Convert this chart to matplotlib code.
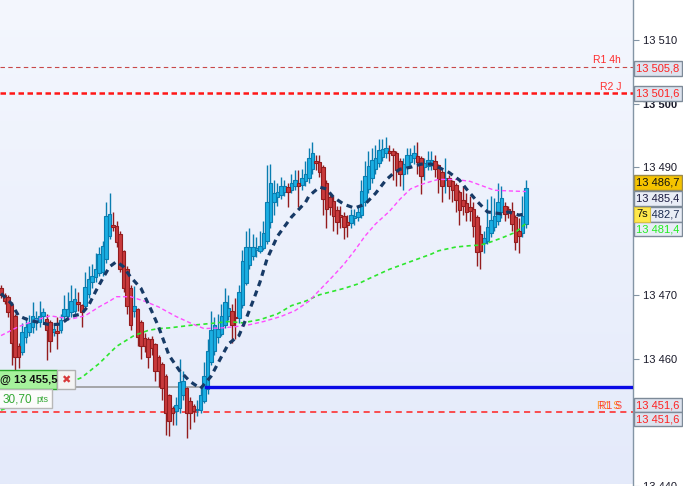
import numpy as np
import matplotlib
matplotlib.use("Agg")
import matplotlib.pyplot as plt
from matplotlib.colors import LinearSegmentedColormap
from matplotlib.patches import Rectangle
import matplotlib.transforms as mtransforms

plt.rcParams["font.family"] = ["Liberation Sans", "DejaVu Sans"]

# OHLC, one candle per bar
opens = [
    13471.0, 13470.0, 13469.7, 13468.4, 13466.7, 13462.0, 13461.1, 13463.4, 13464.2, 13465.0,
    13465.8, 13465.8, 13466.6, 13466.2, 13465.8, 13464.2, 13464.3, 13464.4, 13466.6, 13466.6,
    13467.3, 13467.5, 13468.8, 13468.4, 13468.3, 13470.2, 13472.0, 13472.8, 13473.4, 13473.6,
    13475.6, 13479.2, 13481.0, 13480.8, 13479.5, 13476.9, 13474.0, 13471.0, 13467.5, 13467.8,
    13465.8, 13463.2, 13463.0, 13463.1, 13462.3, 13460.3, 13459.2, 13457.2, 13454.2, 13452.3,
    13451.7, 13452.3, 13454.2, 13455.3, 13453.4, 13452.5, 13451.9, 13452.0, 13453.3, 13455.2,
    13459.5, 13461.2, 13463.3, 13463.9, 13465.3, 13466.7, 13467.5, 13466.5, 13466.3, 13468.4,
    13471.9, 13474.7, 13476.1, 13477.0, 13476.9, 13477.3, 13478.4, 13481.4, 13484.5, 13485.3,
    13485.6, 13486.2, 13486.9, 13486.4, 13487.0, 13487.5, 13487.2, 13487.8, 13488.4, 13489.7,
    13491.0, 13490.8, 13490.0, 13487.5, 13485.3, 13484.7, 13483.3, 13482.5, 13482.3, 13481.4,
    13481.2, 13482.0, 13482.2, 13482.5, 13484.5, 13486.6, 13488.3, 13489.8, 13490.6, 13491.6,
    13492.2, 13492.6, 13492.5, 13492.3, 13491.0, 13489.0, 13490.0, 13490.8, 13491.4, 13491.7,
    13491.4, 13490.0, 13490.2, 13490.5, 13491.0, 13490.3, 13489.2, 13488.0, 13488.3, 13487.8,
    13487.2, 13486.1, 13484.8, 13484.4, 13483.8, 13483.4, 13482.2, 13479.5, 13478.1, 13478.4,
    13479.7, 13480.6, 13481.6, 13483.0, 13483.9, 13483.4, 13483.1, 13482.2, 13480.0, 13479.7,
    13481.1,
]
closes = [
    13470.0, 13469.0, 13467.3, 13462.5, 13460.3, 13460.2, 13464.2, 13465.0, 13465.5, 13466.6,
    13466.3, 13466.6, 13467.3, 13464.4, 13462.8, 13464.6, 13464.0, 13466.0, 13467.8, 13467.8,
    13469.0, 13469.3, 13468.5, 13467.3, 13471.2, 13472.5, 13473.0, 13474.0, 13476.4, 13477.7,
    13482.3, 13482.7, 13480.7, 13478.3, 13474.0, 13471.0, 13468.3, 13465.2, 13468.2, 13463.4,
    13461.9, 13462.0, 13460.3, 13461.6, 13458.1, 13458.0, 13455.3, 13451.4, 13450.2, 13451.4,
    13452.7, 13456.3, 13456.4, 13451.4, 13451.4, 13451.7, 13452.1, 13454.2, 13457.2, 13461.2,
    13464.4, 13465.2, 13464.7, 13466.6, 13468.9, 13468.0, 13465.2, 13466.3, 13470.5, 13475.3,
    13477.5, 13477.5, 13477.5, 13477.3, 13477.7, 13479.7, 13484.5, 13487.5, 13486.0, 13486.1,
    13487.0, 13487.0, 13486.1, 13487.5, 13488.0, 13487.0, 13488.4, 13489.0, 13491.4, 13492.2,
    13490.6, 13489.2, 13485.0, 13483.4, 13483.7, 13482.3, 13481.4, 13482.2, 13480.6, 13481.0,
    13482.5, 13482.3, 13483.0, 13486.3, 13488.6, 13490.2, 13491.2, 13491.4, 13492.7, 13492.8,
    13493.1, 13492.3, 13492.0, 13489.5, 13489.0, 13490.5, 13491.9, 13491.9, 13492.3, 13490.8,
    13488.6, 13490.6, 13491.2, 13491.1, 13489.7, 13488.1, 13487.0, 13488.3, 13487.0, 13486.4,
    13484.8, 13483.3, 13483.9, 13483.0, 13483.1, 13480.8, 13476.7, 13476.9, 13478.9, 13480.6,
    13481.7, 13482.3, 13484.5, 13485.2, 13482.7, 13483.1, 13481.1, 13478.3, 13479.2, 13482.3,
    13486.7,
]
highs = [
    13471.5, 13470.3, 13470.0, 13468.8, 13467.0, 13462.5, 13465.5, 13466.5, 13466.8, 13468.8,
    13467.5, 13469.0, 13468.0, 13467.0, 13466.0, 13465.5, 13466.5, 13467.0, 13470.0, 13470.5,
    13471.5, 13471.0, 13470.5, 13468.6, 13473.5, 13474.5, 13474.8, 13476.5, 13477.5, 13478.5,
    13484.5, 13486.0, 13483.0, 13481.5, 13480.0, 13477.0, 13474.5, 13471.5, 13471.4, 13468.0,
    13466.0, 13464.0, 13463.3, 13463.5, 13462.5, 13460.5, 13459.5, 13457.5, 13454.5, 13452.5,
    13454.0, 13460.0, 13458.0, 13455.5, 13454.0, 13452.8, 13453.5, 13455.5, 13459.5, 13463.0,
    13467.5, 13466.5, 13467.0, 13468.5, 13471.0, 13470.0, 13468.5, 13469.5, 13471.5, 13477.0,
    13480.0, 13480.5, 13479.5, 13479.0, 13480.0, 13481.5, 13490.3, 13490.5, 13488.0, 13487.5,
    13488.5, 13488.0, 13487.5, 13489.0, 13489.5, 13489.5, 13489.8, 13491.0, 13493.0, 13494.0,
    13492.0, 13492.0, 13490.3, 13488.0, 13486.0, 13485.5, 13484.0, 13484.0, 13483.0, 13482.5,
    13483.5, 13483.5, 13484.0, 13488.0, 13491.0, 13492.5, 13493.0, 13493.5, 13494.5, 13494.5,
    13494.8, 13493.5, 13493.0, 13492.5, 13491.5, 13491.5, 13493.0, 13493.0, 13493.5, 13494.0,
    13491.7, 13491.5, 13492.5, 13492.5, 13492.0, 13490.5, 13489.5, 13491.5, 13488.8, 13488.0,
    13487.5, 13486.5, 13487.0, 13486.0, 13485.5, 13484.5, 13482.5, 13481.0, 13480.0, 13485.0,
    13485.5, 13485.2, 13487.5, 13487.0, 13484.5, 13484.0, 13484.5, 13482.5, 13482.0, 13485.5,
    13488.0,
]
lows = [
    13469.5, 13468.5, 13466.5, 13459.0, 13458.2, 13458.5, 13460.5, 13462.5, 13463.5, 13464.0,
    13464.5, 13465.0, 13465.5, 13459.7, 13461.0, 13463.5, 13461.5, 13464.0, 13466.0, 13466.0,
    13466.5, 13467.0, 13467.5, 13465.0, 13467.8, 13469.5, 13471.0, 13472.0, 13473.0, 13473.0,
    13475.0, 13478.8, 13480.0, 13477.5, 13473.5, 13470.5, 13467.0, 13464.5, 13466.5, 13462.0,
    13460.0, 13461.0, 13458.5, 13460.5, 13456.5, 13455.5, 13453.5, 13448.0, 13447.8, 13449.5,
    13449.5, 13451.5, 13453.5, 13447.5, 13449.0, 13450.0, 13451.0, 13451.5, 13453.0, 13454.5,
    13459.0, 13460.5, 13462.5, 13463.5, 13464.8, 13466.0, 13462.5, 13463.0, 13465.5, 13468.0,
    13471.5, 13474.0, 13475.5, 13476.0, 13476.5, 13477.0, 13478.0, 13480.5, 13482.5, 13484.0,
    13485.0, 13485.5, 13483.7, 13486.0, 13486.5, 13483.7, 13486.5, 13487.0, 13487.5, 13489.0,
    13489.5, 13488.5, 13482.5, 13480.5, 13482.5, 13480.0, 13479.5, 13480.5, 13478.7, 13479.0,
    13480.5, 13481.0, 13481.5, 13482.0, 13484.0, 13486.0, 13487.5, 13489.0, 13490.0, 13491.0,
    13491.5, 13491.0, 13488.0, 13487.0, 13487.0, 13486.5, 13489.0, 13490.0, 13490.5, 13489.0,
    13485.8, 13488.0, 13489.5, 13489.5, 13488.5, 13486.0, 13484.5, 13486.0, 13485.0, 13484.5,
    13483.0, 13481.0, 13482.5, 13481.5, 13481.5, 13479.0, 13474.5, 13474.0, 13476.5, 13478.0,
    13479.0, 13480.0, 13481.0, 13482.0, 13481.5, 13482.0, 13480.0, 13477.0, 13476.5, 13479.0,
    13480.5,
]

# moving averages, sampled at these bars
ma_fast_bar = [0, 3, 5, 8, 14, 17, 20, 23, 25, 27, 29, 31, 33, 35, 37, 40, 43, 45, 48, 51,
               54, 57, 60, 63, 65, 68, 70, 72, 74, 76, 79, 83, 87, 88, 91, 93, 95, 98, 101,
               104, 107, 110, 112, 114, 117, 120, 123, 125, 128, 131, 133, 136, 139, 143,
               145, 148, 150]
ma_fast = [13470.2, 13468.6, 13466.7, 13466.0, 13465.3, 13465.4, 13466.6, 13467.0, 13468.3,
           13470.5, 13472.5, 13474.4, 13475.2, 13474.4, 13472.8, 13471.0, 13467.5, 13465.0,
           13460.5, 13458.1, 13456.4, 13455.3, 13457.2, 13460.3, 13462.3, 13463.6, 13466.2,
           13469.0, 13472.0, 13475.6, 13479.2, 13482.2, 13484.5, 13485.5, 13486.9, 13486.6,
           13485.3, 13484.2, 13483.6, 13484.2, 13485.9, 13488.0, 13489.0, 13489.7, 13490.0,
           13490.5, 13490.5, 13490.0, 13489.2, 13488.0, 13486.6, 13484.7, 13483.0, 13482.7,
           13483.0, 13482.5, 13482.7]

ma_mid_bar = [0, 5, 11, 14, 20, 24, 28, 31, 33, 37, 41, 45, 50, 54, 58, 63, 67, 71, 75, 80,
              84, 88, 95, 98, 101, 104, 107, 111, 114, 117, 120, 123, 125, 130, 134, 138,
              141, 145, 150]
ma_mid = [13463.6, 13465.0, 13466.2, 13466.7, 13466.2, 13466.7, 13468.1, 13469.0, 13469.7,
          13469.7, 13469.0, 13468.1, 13466.6, 13465.6, 13464.7, 13464.8, 13465.0, 13465.3,
          13465.8, 13466.6, 13467.5, 13469.0, 13473.0, 13474.8, 13476.9, 13479.2, 13481.1,
          13483.1, 13485.0, 13486.6, 13487.3, 13487.8, 13488.1, 13488.1, 13487.8, 13487.0,
          13486.4, 13486.3, 13486.2]

ma_slow_bar = [0, 23, 28, 33, 38, 42, 45, 48, 54, 60, 65, 69, 74, 79, 83, 87, 91, 98, 102,
               105, 111, 117, 123, 125, 130, 134, 137, 140, 143, 147, 150]
ma_slow = [13451.9, 13457.0, 13459.2, 13461.9, 13463.6, 13464.4, 13464.7, 13464.8, 13465.2,
           13465.5, 13465.8, 13465.6, 13466.1, 13467.0, 13468.3, 13469.0, 13470.0, 13471.0,
           13471.7, 13472.5, 13474.0, 13475.2, 13476.4, 13476.9, 13477.5, 13477.7, 13477.8,
           13478.3, 13478.9, 13479.8, 13481.2]

# levels
r1_4h = 13505.8
r2_j = 13501.6
r1_s = 13451.6
order_level = 13455.5
order_pts = "30,70"
y_ticks = [13440, 13450, 13460, 13470, 13480, 13490, 13500, 13510]

W, H = 683, 486
fig = plt.figure(figsize=(W / 100, H / 100), dpi=100)
fig.patch.set_facecolor("white")
ax = fig.add_axes([0, 0, 633 / W, 1])
xlo, xhi = -0.3, 180.6
ylo, yhi = 13440.3, 13516.25
ax.set_xlim(xlo, xhi)
ax.set_ylim(ylo, yhi)

# background gradient
cmap = LinearSegmentedColormap.from_list("bg", ["#e4eafa", "#f4f7fe"])
ax.imshow(np.linspace(0, 1, 256).reshape(-1, 1), extent=[xlo, xhi, ylo, yhi],
          origin="lower", aspect="auto", cmap=cmap, zorder=0)

o = np.array(opens)
c = np.array(closes)
h = np.array(highs)
l = np.array(lows)
x = np.arange(len(o))
up = c >= o
body_lo = np.minimum(o, c)
body_h = np.maximum(np.abs(c - o), 0.25)

up_fill, up_edge = "#1aaee2", "#0a7db0"
dn_fill, dn_edge = "#c83a3c", "#931c1e"

ax.vlines(x[up], l[up], h[up], color=up_edge, lw=1.0, zorder=3)
ax.vlines(x[~up], l[~up], h[~up], color=dn_edge, lw=1.0, zorder=3)
ax.bar(x[up], body_h[up], bottom=body_lo[up], width=0.92, color=up_fill,
       edgecolor=up_edge, linewidth=0.8, zorder=4)
ax.bar(x[~up], body_h[~up], bottom=body_lo[~up], width=0.92, color=dn_fill,
       edgecolor=dn_edge, linewidth=0.8, zorder=4)

ax.plot(ma_slow_bar, ma_slow, color="#2ee62e", lw=1.2, dashes=(2.5, 2), zorder=5)
ax.plot(ma_mid_bar, ma_mid, color="#ff4dff", lw=1.0, dashes=(3, 2), zorder=5)
ax.plot(ma_fast_bar, ma_fast, color="#173a66", lw=2.3, dashes=(1.9, 1.5), zorder=6)

# horizontal levels
ax.axhline(r1_4h, color="#c84848", lw=0.8, dashes=(4, 3), zorder=2)
ax.axhline(r2_j, color="#ff1616", lw=1.8, dashes=(2.2, 1.4), zorder=2)
ax.axhline(r1_s, color="#ff2020", lw=1.1, dashes=(4, 3), zorder=2)
ax.plot([xlo, 58.5], [order_level, order_level], color="#9a9a9a", lw=1.2, zorder=2)
ax.plot([58.5, xhi], [order_level, order_level], color="#0a0ae6", lw=2.4, zorder=7)

lbl = dict(fontsize=7.5, ha="right", va="bottom", zorder=8)
ax.text(177.2, r1_4h + 0.2, "R1 4h", color="#ff2a2a", **lbl)
ax.text(177.2, r2_j + 0.2, "R2 J", color="#ff3030", **lbl)
ax.text(177.0, r1_s + 0.2, "R1 S", color="#ff9a30", **lbl)
ax.text(177.4, r1_s + 0.2, "R1 S", color="#ff2020", alpha=0.8, **lbl)

# axis look
for s in ["top", "left", "bottom"]:
    ax.spines[s].set_visible(False)
ax.spines["right"].set_color("#8495a5")
ax.spines["right"].set_linewidth(1.0)
ax.set_xticks([])
ax.yaxis.tick_right()
ax.set_yticks(y_ticks)
ax.set_yticklabels([f"{v:,}".replace(",", " ") for v in y_ticks])
ax.tick_params(axis="y", direction="out", length=4, width=0.8, color="#8495a5",
               labelsize=8, labelcolor="#1a1a2a", pad=3)
for t, v in zip(ax.get_yticklabels(), y_ticks):
    if v % 100 == 0:
        t.set_fontweight("bold")

# price boxes on the right axis
trans = mtransforms.blended_transform_factory(ax.transAxes, ax.transData)


def price_box(y, text, fg, bg, edge="#7d8a98"):
    ax.text(1.005, y, text, transform=trans, fontsize=8, color=fg, ha="left",
            va="center", clip_on=False, zorder=10,
            bbox=dict(boxstyle="square,pad=0.2", fc=bg, ec=edge, lw=1.0))


price_box(13505.5, "13 505,8", "#ff2020", "#dde3ee")
price_box(r2_j, "13 501,6", "#ff2020", "#dde3ee")
price_box(13487.6, "13 486,7", "#111111", "#f5c300", edge="#9a8a50")
price_box(13485.1, "13 485,4", "#1a1a40", "#e9edf6")
price_box(13482.6, "13 482,7", "#1a2a50", "#e9edf6")
price_box(13480.3, "13 481,4", "#22ee22", "#e9edf6")
price_box(13452.7, "13 451,6", "#ff2020", "#dde3ee")
price_box(13450.5, "13 451,6", "#ff2020", "#dde3ee")
ax.text(1.005, 13482.6, "7s", transform=trans, fontsize=8, color="#111111",
        ha="left", va="center", clip_on=False, zorder=11,
        bbox=dict(boxstyle="square,pad=0.2", fc="#ffe84a", ec="#d8c040", lw=0.8))


# order boxes at bottom left (pixel layout)
def fx(px):
    return px / W


def fy(py):
    return 1 - py / H


fig.patches.append(Rectangle((fx(-2), fy(389)), fx(59), 19 / H, transform=fig.transFigure,
                             fc="#a6f29c", ec="#2aa82a", lw=1.0, zorder=20))
fig.patches.append(Rectangle((fx(57), fy(389)), fx(18), 19 / H, transform=fig.transFigure,
                             fc="#f4f4f4", ec="#b0b0b0", lw=1.0, zorder=20))
fig.patches.append(Rectangle((fx(-2), fy(408)), fx(54), 19 / H, transform=fig.transFigure,
                             fc="#fbfbfb", ec="#b8b8b8", lw=1.0, zorder=20))
fig.text(fx(0), fy(380), "@ 13 455,5", fontsize=8, fontweight="bold", color="#111111",
         ha="left", va="center", zorder=21)
fig.text(fx(66), fy(380), "\u2716", fontsize=8, color="#d83a3a", ha="center",
         va="center", zorder=21, family=["DejaVu Sans"])
fig.text(fx(3), fy(399), order_pts, fontsize=8.5, color="#33a833", ha="left",
         va="center", zorder=21)
fig.text(fx(36), fy(399.5), "pts", fontsize=6.5, color="#33a833", ha="left",
         va="center", zorder=21)

fig.savefig("out.png", dpi=100)
